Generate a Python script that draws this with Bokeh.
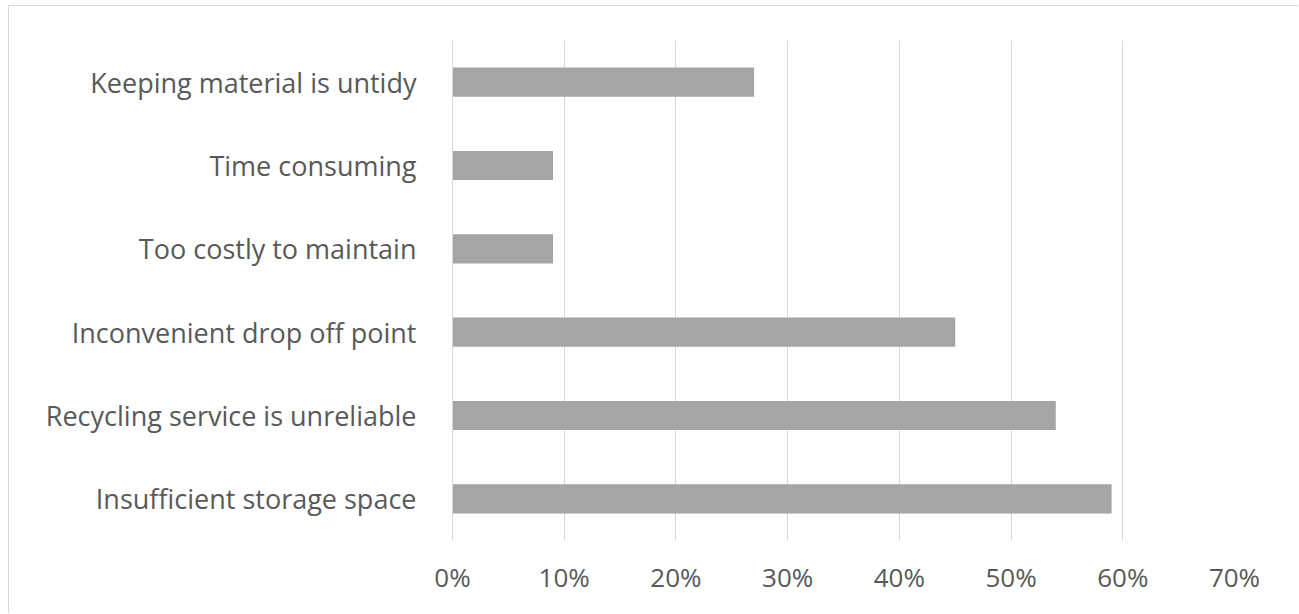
from bokeh.plotting import figure
from bokeh.models import FactorRange, Range1d, FixedTicker, NumeralTickFormatter
from bokeh.embed import file_html
from bokeh.resources import INLINE

# Data (bottom to top)
categories = [
    "Insufficient storage space",
    "Recycling service is unreliable",
    "Inconvenient drop off point",
    "Too costly to maintain",
    "Time consuming",
    "Keeping material is untidy",
]
shares = [0.59, 0.54, 0.45, 0.09, 0.09, 0.27]
x_ticks = [0.0, 0.1, 0.2, 0.3, 0.4, 0.5, 0.6, 0.7]

FONT = "Open Sans"
TEXT = "#595959"
GRID = "#d9d9d9"

p = figure(
    width=1290, height=608,
    y_range=FactorRange(factors=categories, range_padding=0),
    x_range=Range1d(0, 0.7),
    output_backend="svg", toolbar_location=None,
    min_border_left=443, min_border_right=65,
    min_border_top=34, min_border_bottom=74,
)
p.margin = (5, 0, 0, 8)
p.styles = {"border-top": "1px solid #d9d9d9", "border-left": "1px solid #d9d9d9"}

p.hbar(y=categories, right=shares, left=0, height=0.35, color="#a5a5a5", line_color=None)

p.outline_line_color = None
p.ygrid.grid_line_color = None
p.xgrid.grid_line_color = GRID
p.xgrid.ticker = FixedTicker(ticks=x_ticks)

p.xaxis.ticker = FixedTicker(ticks=x_ticks)
p.xaxis.formatter = NumeralTickFormatter(format="0%")
p.xaxis.axis_line_color = None
p.xaxis.major_tick_line_color = None
p.xaxis.minor_tick_line_color = None
p.xaxis.major_label_standoff = 12
p.xaxis.major_label_text_font = FONT
p.xaxis.major_label_text_font_size = "26px"
p.xaxis.major_label_text_color = TEXT

p.yaxis.axis_line_color = GRID
p.yaxis.major_tick_line_color = None
p.yaxis.minor_tick_line_color = None
p.yaxis.major_label_standoff = 30
p.yaxis.major_label_text_font = FONT
p.yaxis.major_label_text_font_size = "27px"
p.yaxis.major_label_text_color = TEXT

open("out.html", "w").write(file_html(p, INLINE))
